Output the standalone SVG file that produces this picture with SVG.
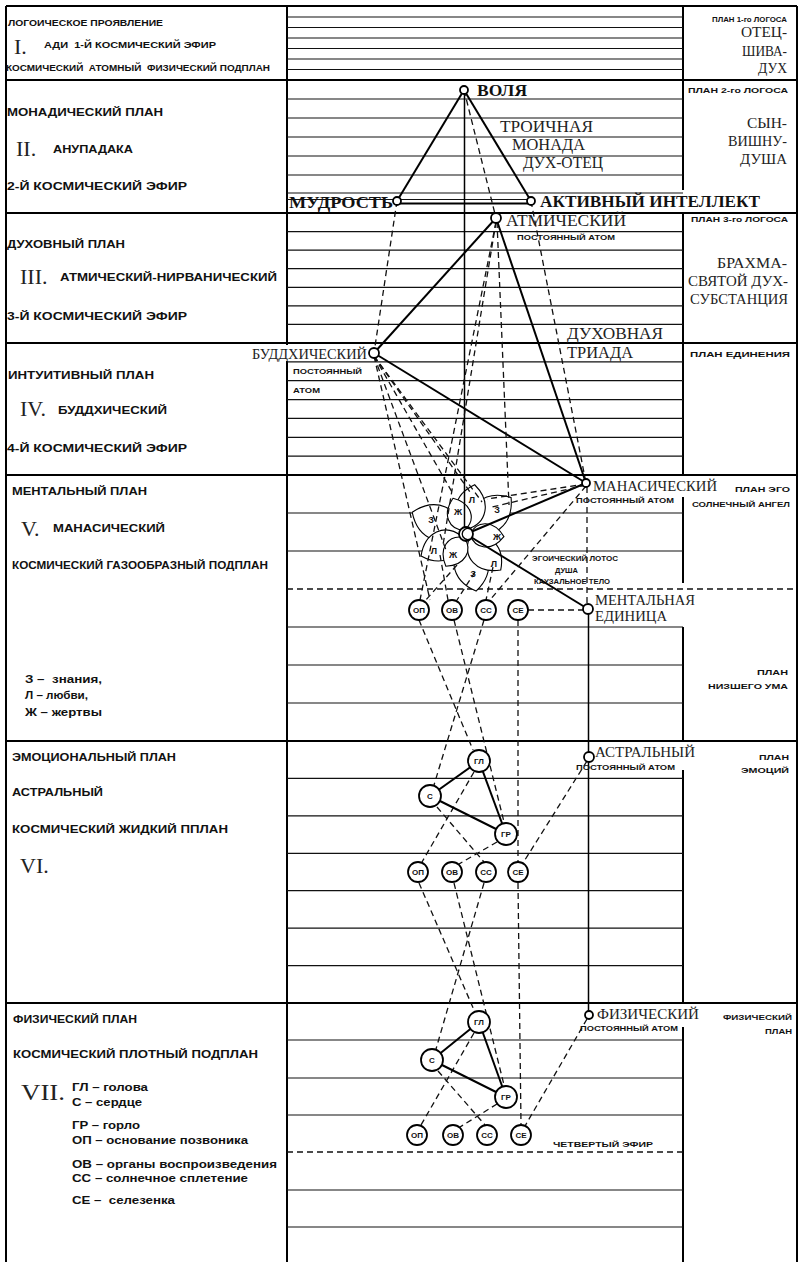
<svg xmlns="http://www.w3.org/2000/svg" width="798" height="1262" viewBox="0 0 798 1262">
<style>
.bg{fill:#fff}
.t{stroke:#111;stroke-width:1.2;fill:none}
.k{stroke:#000;stroke-width:2;fill:none}
.dl{stroke:#111;stroke-width:1.3;stroke-dasharray:6 4;fill:none}
.sl{stroke:#000;stroke-width:2;fill:none}
.vl{stroke:#000;stroke-width:1.5;fill:none}
.nd{fill:#fff;stroke:#000;stroke-width:1.8}
.ch{fill:#fff;stroke:#000;stroke-width:1.8}
.pt{fill:#fff;stroke:#000;stroke-width:1.1}
.s{font-family:'Liberation Sans',Arial,sans-serif;font-weight:bold;fill:#111}
.r{font-family:'Liberation Serif','Times New Roman',serif;fill:#222}
.rb{font-family:'Liberation Serif','Times New Roman',serif;font-weight:bold;fill:#111}
.c{text-anchor:middle}
</style>
<rect class="bg" x="0" y="0" width="798" height="1262"/>

<g id="grid">
<line class="k" x1="6" y1="6" x2="797" y2="6"/>
<line class="k" x1="6" y1="6" x2="6" y2="1262"/>
<line class="k" x1="797" y1="6" x2="797" y2="1262"/>
<line class="k" x1="287" y1="6" x2="287" y2="345"/>
<line class="k" x1="287" y1="361" x2="287" y2="1262"/>
<line class="k" x1="683" y1="6" x2="683" y2="190"/>
<line class="k" x1="683" y1="213" x2="683" y2="475"/>
<line class="k" x1="683" y1="497" x2="683" y2="583"/>
<line class="k" x1="683" y1="627" x2="683" y2="741"/>
<line class="k" x1="683" y1="770" x2="683" y2="1003"/>
<line class="k" x1="683" y1="1027" x2="683" y2="1262"/>
<line class="k" x1="6" y1="80" x2="797" y2="80"/>
<line class="k" x1="6" y1="213" x2="797" y2="213"/>
<line class="k" x1="6" y1="343" x2="797" y2="343"/>
<line class="k" x1="6" y1="475" x2="797" y2="475"/>
<line class="k" x1="6" y1="741" x2="797" y2="741"/>
<line class="k" x1="6" y1="1003" x2="797" y2="1003"/>
<line class="t" x1="287" y1="17" x2="683" y2="17"/>
<line class="t" x1="287" y1="27.5" x2="683" y2="27.5"/>
<line class="t" x1="287" y1="38" x2="683" y2="38"/>
<line class="t" x1="287" y1="48.5" x2="683" y2="48.5"/>
<line class="t" x1="287" y1="59" x2="683" y2="59"/>
<line class="t" x1="287" y1="69.5" x2="683" y2="69.5"/>
<line class="t" x1="287" y1="99" x2="683" y2="99"/>
<line class="t" x1="287" y1="118" x2="683" y2="118"/>
<line class="t" x1="287" y1="137" x2="683" y2="137"/>
<line class="t" x1="287" y1="156" x2="683" y2="156"/>
<line class="t" x1="287" y1="175" x2="683" y2="175"/>
<line class="t" x1="287" y1="193" x2="683" y2="193"/>
<line class="t" x1="287" y1="199.5" x2="531" y2="199.5"/>
<line class="t" x1="287" y1="231.6" x2="683" y2="231.6"/>
<line class="t" x1="287" y1="250.1" x2="683" y2="250.1"/>
<line class="t" x1="287" y1="268.7" x2="683" y2="268.7"/>
<line class="t" x1="287" y1="287.3" x2="683" y2="287.3"/>
<line class="t" x1="287" y1="305.9" x2="683" y2="305.9"/>
<line class="t" x1="287" y1="324.4" x2="683" y2="324.4"/>
<line class="t" x1="287" y1="361.9" x2="683" y2="361.9"/>
<line class="t" x1="287" y1="380.7" x2="683" y2="380.7"/>
<line class="t" x1="287" y1="399.6" x2="683" y2="399.6"/>
<line class="t" x1="287" y1="418.4" x2="683" y2="418.4"/>
<line class="t" x1="287" y1="437.3" x2="683" y2="437.3"/>
<line class="t" x1="287" y1="456.1" x2="683" y2="456.1"/>
<line class="t" x1="287" y1="513" x2="683" y2="513"/>
<line class="t" x1="287" y1="551" x2="683" y2="551"/>
<line class="dl" x1="287" y1="589" x2="797" y2="589"/>
<line class="t" x1="287" y1="627" x2="683" y2="627"/>
<line class="t" x1="287" y1="665" x2="683" y2="665"/>
<line class="t" x1="287" y1="703" x2="683" y2="703"/>
<line class="t" x1="287" y1="778.4" x2="683" y2="778.4"/>
<line class="t" x1="287" y1="815.9" x2="683" y2="815.9"/>
<line class="t" x1="287" y1="853.3" x2="683" y2="853.3"/>
<line class="t" x1="287" y1="890.7" x2="683" y2="890.7"/>
<line class="t" x1="287" y1="928.1" x2="683" y2="928.1"/>
<line class="t" x1="287" y1="965.6" x2="683" y2="965.6"/>
<line class="t" x1="287" y1="1040" x2="683" y2="1040"/>
<line class="t" x1="287" y1="1078" x2="683" y2="1078"/>
<line class="t" x1="287" y1="1115" x2="683" y2="1115"/>
<line class="dl" x1="287" y1="1152" x2="683" y2="1152"/>
<line class="t" x1="287" y1="1190" x2="683" y2="1190"/>
<line class="t" x1="287" y1="1227" x2="683" y2="1227"/>
</g>

<g id="lotus">
<g transform="translate(466,534)">
<path class="pt" transform="rotate(202)" d="M5,0 C15,-22 42,-24 58,0 C42,24 15,22 5,0Z"/>
<path class="pt" transform="rotate(321)" d="M5,0 C15,-22 42,-24 58,0 C42,24 15,22 5,0Z"/>
<path class="pt" transform="rotate(80)" d="M5,0 C15,-22 42,-24 58,0 C42,24 15,22 5,0Z"/>
<path class="pt" transform="rotate(46)" d="M5,0 C14,-19 36,-20 50,0 C36,20 14,19 5,0Z"/>
<path class="pt" transform="rotate(154)" d="M5,0 C14,-19 36,-20 50,0 C36,20 14,19 5,0Z"/>
<path class="pt" transform="rotate(280)" d="M5,0 C14,-19 36,-20 50,0 C36,20 14,19 5,0Z"/>
<path class="pt" transform="rotate(4)" d="M4,0 C10,-15 27,-16 38,0 C27,16 10,15 4,0Z"/>
<path class="pt" transform="rotate(122)" d="M4,0 C10,-15 27,-16 38,0 C27,16 10,15 4,0Z"/>
<path class="pt" transform="rotate(250)" d="M4,0 C10,-15 27,-16 38,0 C27,16 10,15 4,0Z"/>
</g>
<text class="s c" x="431" y="523" font-size="9">З</text>
<text class="s c" x="497" y="513" font-size="9">З</text>
<text class="s c" x="473" y="577" font-size="9">З</text>
<text class="s c" x="472" y="503" font-size="9">Л</text>
<text class="s c" x="434" y="554" font-size="9">Л</text>
<text class="s c" x="494" y="567" font-size="9">Л</text>
<text class="s c" x="458" y="515" font-size="9">Ж</text>
<text class="s c" x="497" y="540" font-size="9">Ж</text>
<text class="s c" x="453" y="558" font-size="9">Ж</text>
</g>

<g id="connectors">
<line class="sl" x1="464" y1="90" x2="397" y2="201"/>
<line class="sl" x1="464" y1="90" x2="531" y2="201"/>
<line class="sl" x1="397" y1="203.5" x2="531" y2="203.5"/>
<line class="vl" x1="464.5" y1="90" x2="464.5" y2="534"/>
<line class="sl" x1="496" y1="218" x2="374" y2="353"/>
<line class="sl" x1="496" y1="218" x2="586" y2="483"/>
<line class="sl" x1="374" y1="353" x2="586" y2="483"/>
<line class="sl" x1="586" y1="483" x2="466" y2="534"/>
<line class="sl" x1="466" y1="534" x2="588" y2="609"/>
<line class="vl" x1="588.5" y1="609" x2="588.5" y2="1015"/>
<line class="dl" x1="464" y1="90" x2="496" y2="218"/>
<line class="dl" x1="397" y1="201" x2="374" y2="353"/>
<line class="dl" x1="531" y1="201" x2="586" y2="483"/>
<line class="dl" x1="496" y1="222" x2="420" y2="600"/>
<line class="dl" x1="496" y1="222" x2="443" y2="545"/>
<line class="dl" x1="497" y1="222" x2="509" y2="505"/>
<line class="dl" x1="374" y1="356" x2="430" y2="600"/>
<line class="dl" x1="374" y1="356" x2="446" y2="550"/>
<line class="dl" x1="374" y1="356" x2="452" y2="492"/>
<line class="dl" x1="374" y1="356" x2="470" y2="492"/>
<line class="dl" x1="374" y1="356" x2="482" y2="502"/>
<line class="dl" x1="586" y1="484" x2="487" y2="499"/>
<line class="dl" x1="586" y1="485" x2="492" y2="507"/>
<line class="dl" x1="586" y1="486" x2="490" y2="600"/>
<line class="dl" x1="587" y1="487" x2="587" y2="604"/>
<line class="dl" x1="457" y1="565" x2="425" y2="601"/>
<line class="dl" x1="440" y1="555" x2="448" y2="600"/>
<line class="dl" x1="475" y1="572" x2="457" y2="600"/>
<line class="dl" x1="493" y1="567" x2="486" y2="600"/>
<line class="dl" x1="528" y1="610" x2="583" y2="610"/>
<line class="dl" x1="419" y1="620" x2="473" y2="750"/>
<line class="dl" x1="454" y1="620" x2="504" y2="822"/>
<line class="dl" x1="484" y1="620" x2="434" y2="785"/>
<line class="dl" x1="518" y1="620" x2="518" y2="862"/>
<line class="dl" x1="587" y1="761" x2="523" y2="863"/>
<line class="dl" x1="474" y1="772" x2="422" y2="862"/>
<line class="dl" x1="437" y1="807" x2="484" y2="862"/>
<line class="dl" x1="497" y1="842" x2="459" y2="864"/>
<line class="dl" x1="419" y1="883" x2="474" y2="1010"/>
<line class="dl" x1="454" y1="883" x2="504" y2="1085"/>
<line class="dl" x1="484" y1="883" x2="436" y2="1049"/>
<line class="dl" x1="518" y1="883" x2="521" y2="1124"/>
<line class="dl" x1="587" y1="1019" x2="525" y2="1126"/>
<line class="dl" x1="474" y1="1033" x2="421" y2="1125"/>
<line class="dl" x1="438" y1="1071" x2="485" y2="1125"/>
<line class="dl" x1="497" y1="1104" x2="460" y2="1127"/>
<line class="sl" x1="479" y1="761" x2="430" y2="796"/>
<line class="sl" x1="479" y1="761" x2="506" y2="834"/>
<line class="sl" x1="430" y1="796" x2="506" y2="834"/>
<line class="sl" x1="479" y1="1022" x2="432" y2="1060"/>
<line class="sl" x1="479" y1="1022" x2="506" y2="1097"/>
<line class="sl" x1="432" y1="1060" x2="506" y2="1097"/>
</g>

<g id="lotus-centre">
<circle class="nd" cx="466" cy="534" r="7"/>
<path d="M470,529 A5.5,5.5 0 1 0 470,539" fill="none" stroke="#000" stroke-width="1.3"/>
</g>

<g id="n-volya"><circle class="nd" cx="464" cy="90" r="4"/><text class="rb" x="477" y="96" font-size="16" textLength="50" lengthAdjust="spacingAndGlyphs">ВОЛЯ</text></g>
<g id="n-mudrost"><circle class="nd" cx="397" cy="201" r="4"/><text class="rb" x="289" y="208" font-size="16" textLength="104" lengthAdjust="spacingAndGlyphs">МУДРОСТЬ</text></g>
<g id="n-aktiv"><circle class="nd" cx="531" cy="201" r="4"/><text class="rb" x="540" y="207" font-size="16" textLength="220" lengthAdjust="spacingAndGlyphs">АКТИВНЫЙ ИНТЕЛЛЕКТ</text></g>
<g id="t-monada">
<text class="r" x="500" y="132" font-size="16" textLength="93" lengthAdjust="spacingAndGlyphs">ТРОИЧНАЯ</text>
<text class="r" x="512" y="150" font-size="16" textLength="73" lengthAdjust="spacingAndGlyphs">МОНАДА</text>
<text class="r" x="523" y="168" font-size="16" textLength="80" lengthAdjust="spacingAndGlyphs">ДУХ-ОТЕЦ</text>
</g>
<g id="n-atmic"><circle class="nd" cx="496" cy="218" r="5"/>
<text class="r" x="506" y="226" font-size="16" textLength="120" lengthAdjust="spacingAndGlyphs">АТМИЧЕСКИЙ</text>
<text class="s" x="517" y="240" font-size="7.5" textLength="98" lengthAdjust="spacingAndGlyphs">ПОСТОЯННЫЙ АТОМ</text></g>
<g id="t-triada">
<text class="r" x="567" y="339" font-size="16" textLength="96" lengthAdjust="spacingAndGlyphs">ДУХОВНАЯ</text>
<text class="r" x="567" y="358" font-size="16" textLength="66" lengthAdjust="spacingAndGlyphs">ТРИАДА</text>
</g>
<g id="n-buddhic"><circle class="nd" cx="374" cy="353" r="5"/>
<text class="r" x="252" y="359" font-size="15" textLength="115" lengthAdjust="spacingAndGlyphs">БУДДХИЧЕСКИЙ</text>
<text class="s" x="293" y="374" font-size="7.5" textLength="69" lengthAdjust="spacingAndGlyphs">ПОСТОЯННЫЙ</text>
<text class="s" x="293" y="393" font-size="7.5" textLength="27" lengthAdjust="spacingAndGlyphs">АТОМ</text></g>
<g id="n-manasic"><circle class="nd" cx="586" cy="483" r="4"/>
<text class="r" x="593" y="491" font-size="15" textLength="124" lengthAdjust="spacingAndGlyphs">МАНАСИЧЕСКИЙ</text>
<text class="s" x="576" y="503" font-size="7.5" textLength="98" lengthAdjust="spacingAndGlyphs">ПОСТОЯННЫЙ АТОМ</text></g>
<g id="t-lotus">
<text class="s" x="532" y="561" font-size="7" textLength="86" lengthAdjust="spacingAndGlyphs">ЭГОИЧЕСКИЙ ЛОТОС</text>
<text class="s" x="555" y="573" font-size="7" textLength="23" lengthAdjust="spacingAndGlyphs">ДУША</text>
<text class="s" x="534" y="584" font-size="7" textLength="76" lengthAdjust="spacingAndGlyphs">КАУЗАЛЬНОЕ ТЕЛО</text>
</g>
<g id="n-mental-unit"><circle class="nd" cx="588" cy="609" r="5"/>
<text class="r" x="595" y="605" font-size="15" textLength="100" lengthAdjust="spacingAndGlyphs">МЕНТАЛЬНАЯ</text>
<text class="r" x="595" y="621" font-size="15" textLength="72" lengthAdjust="spacingAndGlyphs">ЕДИНИЦА</text></g>
<g id="n-astral-atom"><circle class="nd" cx="589" cy="757" r="5"/>
<text class="r" x="595" y="757" font-size="15" textLength="100" lengthAdjust="spacingAndGlyphs">АСТРАЛЬНЫЙ</text>
<text class="s" x="576" y="770" font-size="7.5" textLength="99" lengthAdjust="spacingAndGlyphs">ПОСТОЯННЫЙ АТОМ</text></g>
<g id="n-phys-atom"><circle class="nd" cx="589" cy="1015" r="4"/>
<text class="r" x="597" y="1019" font-size="15" textLength="102" lengthAdjust="spacingAndGlyphs">ФИЗИЧЕСКИЙ</text>
<text class="s" x="580" y="1031" font-size="7.5" textLength="98" lengthAdjust="spacingAndGlyphs">ПОСТОЯННЫЙ АТОМ</text></g>

<g id="centres-mental">
<circle class="ch" cx="419" cy="610" r="10"/><text class="s c" x="419" y="613" font-size="8">ОП</text>
<circle class="ch" cx="452" cy="610" r="10"/><text class="s c" x="452" y="613" font-size="8">ОВ</text>
<circle class="ch" cx="486" cy="610" r="10"/><text class="s c" x="486" y="613" font-size="8">СС</text>
<circle class="ch" cx="518" cy="610" r="10"/><text class="s c" x="518" y="613" font-size="8">СЕ</text>
</g>
<g id="centres-astral">
<circle class="ch" cx="479" cy="761" r="11"/><text class="s c" x="479" y="764" font-size="8">ГЛ</text>
<circle class="ch" cx="430" cy="796" r="11"/><text class="s c" x="430" y="799" font-size="8">С</text>
<circle class="ch" cx="506" cy="834" r="11"/><text class="s c" x="506" y="837" font-size="8">ГР</text>
<circle class="ch" cx="418" cy="872" r="10"/><text class="s c" x="418" y="875" font-size="8">ОП</text>
<circle class="ch" cx="452" cy="872" r="10"/><text class="s c" x="452" y="875" font-size="8">ОВ</text>
<circle class="ch" cx="486" cy="872" r="10"/><text class="s c" x="486" y="875" font-size="8">СС</text>
<circle class="ch" cx="518" cy="872" r="10"/><text class="s c" x="518" y="875" font-size="8">СЕ</text>
</g>
<g id="centres-physical">
<circle class="ch" cx="479" cy="1022" r="11"/><text class="s c" x="479" y="1025" font-size="8">ГЛ</text>
<circle class="ch" cx="432" cy="1060" r="11"/><text class="s c" x="432" y="1063" font-size="8">С</text>
<circle class="ch" cx="506" cy="1097" r="11"/><text class="s c" x="506" y="1100" font-size="8">ГР</text>
<circle class="ch" cx="417" cy="1135" r="10"/><text class="s c" x="417" y="1138" font-size="8">ОП</text>
<circle class="ch" cx="453" cy="1135" r="10"/><text class="s c" x="453" y="1138" font-size="8">ОВ</text>
<circle class="ch" cx="487" cy="1135" r="10"/><text class="s c" x="487" y="1138" font-size="8">СС</text>
<circle class="ch" cx="521" cy="1135" r="10"/><text class="s c" x="521" y="1138" font-size="8">СЕ</text>
<text class="s" x="553" y="1147" font-size="8" textLength="100" lengthAdjust="spacingAndGlyphs">ЧЕТВЕРТЫЙ ЭФИР</text>
</g>

<g id="left-labels">
<text class="s" x="8" y="26" font-size="8.5" textLength="155" lengthAdjust="spacingAndGlyphs">ЛОГОИЧЕСКОЕ ПРОЯВЛЕНИЕ</text>
<text class="r" x="14" y="54" font-size="22" fill="#111">I.</text>
<text class="s" x="44" y="48" font-size="8.5" textLength="172" lengthAdjust="spacingAndGlyphs" xml:space="preserve">АДИ  1-Й КОСМИЧЕСКИЙ ЭФИР</text>
<text class="s" x="6" y="71" font-size="8.5" textLength="264" lengthAdjust="spacingAndGlyphs" xml:space="preserve">КОСМИЧЕСКИЙ  АТОМНЫЙ  ФИЗИЧЕСКИЙ ПОДПЛАН</text>
<text class="s" x="7" y="116" font-size="10.5" textLength="156" lengthAdjust="spacingAndGlyphs">МОНАДИЧЕСКИЙ ПЛАН</text>
<text class="r" x="16" y="156" font-size="22">II.</text>
<text class="s" x="53" y="153" font-size="10.5" textLength="80" lengthAdjust="spacingAndGlyphs">АНУПАДАКА</text>
<text class="s" x="7" y="190" font-size="10.5" textLength="180" lengthAdjust="spacingAndGlyphs">2-Й КОСМИЧЕСКИЙ ЭФИР</text>
<text class="s" x="7" y="248" font-size="10.5" textLength="118" lengthAdjust="spacingAndGlyphs">ДУХОВНЫЙ ПЛАН</text>
<text class="r" x="20" y="284" font-size="22">III.</text>
<text class="s" x="60" y="281" font-size="10.5" textLength="217" lengthAdjust="spacingAndGlyphs">АТМИЧЕСКИЙ-НИРВАНИЧЕСКИЙ</text>
<text class="s" x="7" y="320" font-size="10.5" textLength="180" lengthAdjust="spacingAndGlyphs">3-Й КОСМИЧЕСКИЙ ЭФИР</text>
<text class="s" x="8" y="379" font-size="10.5" textLength="146" lengthAdjust="spacingAndGlyphs">ИНТУИТИВНЫЙ ПЛАН</text>
<text class="r" x="20" y="416" font-size="22">IV.</text>
<text class="s" x="58" y="414" font-size="10.5" textLength="109" lengthAdjust="spacingAndGlyphs">БУДДХИЧЕСКИЙ</text>
<text class="s" x="7" y="452" font-size="10.5" textLength="180" lengthAdjust="spacingAndGlyphs">4-Й КОСМИЧЕСКИЙ ЭФИР</text>
<text class="s" x="12" y="495" font-size="10.5" textLength="135" lengthAdjust="spacingAndGlyphs">МЕНТАЛЬНЫЙ ПЛАН</text>
<text class="r" x="21" y="536" font-size="22">V.</text>
<text class="s" x="53" y="532" font-size="10.5" textLength="112" lengthAdjust="spacingAndGlyphs">МАНАСИЧЕСКИЙ</text>
<text class="s" x="12" y="569" font-size="10.5" textLength="256" lengthAdjust="spacingAndGlyphs">КОСМИЧЕСКИЙ ГАЗООБРАЗНЫЙ ПОДПЛАН</text>
<text class="s" x="25" y="683" font-size="10.5" textLength="77" lengthAdjust="spacingAndGlyphs" xml:space="preserve">З –  знания,</text>
<text class="s" x="25" y="699" font-size="10.5" textLength="63" lengthAdjust="spacingAndGlyphs">Л – любви,</text>
<text class="s" x="25" y="716" font-size="10.5" textLength="77" lengthAdjust="spacingAndGlyphs">Ж – жертвы</text>
<text class="s" x="12" y="761" font-size="10.5" textLength="164" lengthAdjust="spacingAndGlyphs">ЭМОЦИОНАЛЬНЫЙ ПЛАН</text>
<text class="s" x="12" y="796" font-size="10.5" textLength="91" lengthAdjust="spacingAndGlyphs">АСТРАЛЬНЫЙ</text>
<text class="s" x="12" y="833" font-size="10.5" textLength="216" lengthAdjust="spacingAndGlyphs">КОСМИЧЕСКИЙ ЖИДКИЙ ППЛАН</text>
<text class="r" x="20" y="873" font-size="22">VI.</text>
<text class="s" x="13" y="1023" font-size="10.5" textLength="124" lengthAdjust="spacingAndGlyphs">ФИЗИЧЕСКИЙ ПЛАН</text>
<text class="s" x="13" y="1058" font-size="10.5" textLength="245" lengthAdjust="spacingAndGlyphs">КОСМИЧЕСКИЙ ПЛОТНЫЙ ПОДПЛАН</text>
<text class="r" x="21" y="1100" font-size="24" textLength="44" lengthAdjust="spacingAndGlyphs">VII.</text>
<text class="s" x="72" y="1091" font-size="10.5" textLength="76" lengthAdjust="spacingAndGlyphs">ГЛ – голова</text>
<text class="s" x="72" y="1106" font-size="10.5" textLength="70" lengthAdjust="spacingAndGlyphs">С – сердце</text>
<text class="s" x="72" y="1129" font-size="10.5" textLength="68" lengthAdjust="spacingAndGlyphs">ГР – горло</text>
<text class="s" x="72" y="1144" font-size="10.5" textLength="176" lengthAdjust="spacingAndGlyphs">ОП – основание позвоника</text>
<text class="s" x="72" y="1168" font-size="10.5" textLength="205" lengthAdjust="spacingAndGlyphs">ОВ – органы воспроизведения</text>
<text class="s" x="72" y="1182" font-size="10.5" textLength="176" lengthAdjust="spacingAndGlyphs">СС – солнечное сплетение</text>
<text class="s" x="72" y="1204" font-size="10.5" textLength="103" lengthAdjust="spacingAndGlyphs" xml:space="preserve">СЕ –  селезенка</text>
</g>

<g id="right-labels">
<text class="s" x="712" y="22" font-size="7.5" textLength="75" lengthAdjust="spacingAndGlyphs">ПЛАН 1-го ЛОГОСА</text>
<text class="r" x="741" y="37" font-size="14" textLength="46" lengthAdjust="spacingAndGlyphs">ОТЕЦ-</text>
<text class="r" x="742" y="56" font-size="14" textLength="45" lengthAdjust="spacingAndGlyphs">ШИВА-</text>
<text class="r" x="758" y="73" font-size="14" textLength="29" lengthAdjust="spacingAndGlyphs">ДУХ</text>
<text class="s" x="688" y="93" font-size="8" textLength="100" lengthAdjust="spacingAndGlyphs">ПЛАН 2-го ЛОГОСА</text>
<text class="r" x="747" y="128" font-size="14" textLength="40" lengthAdjust="spacingAndGlyphs">СЫН-</text>
<text class="r" x="728" y="146" font-size="14" textLength="59" lengthAdjust="spacingAndGlyphs">ВИШНУ-</text>
<text class="r" x="740" y="164" font-size="14" textLength="47" lengthAdjust="spacingAndGlyphs">ДУША</text>
<text class="s" x="691" y="222" font-size="8" textLength="97" lengthAdjust="spacingAndGlyphs">ПЛАН 3-го ЛОГОСА</text>
<text class="r" x="717" y="268" font-size="14" textLength="70" lengthAdjust="spacingAndGlyphs">БРАХМА-</text>
<text class="r" x="688" y="286" font-size="14" textLength="100" lengthAdjust="spacingAndGlyphs">СВЯТОЙ ДУХ-</text>
<text class="r" x="690" y="304" font-size="14" textLength="98" lengthAdjust="spacingAndGlyphs">СУБСТАНЦИЯ</text>
<text class="s" x="690" y="357" font-size="8" textLength="100" lengthAdjust="spacingAndGlyphs">ПЛАН ЕДИНЕНИЯ</text>
<text class="s" x="735" y="492" font-size="8" textLength="55" lengthAdjust="spacingAndGlyphs">ПЛАН ЭГО</text>
<text class="s" x="692" y="507" font-size="8" textLength="98" lengthAdjust="spacingAndGlyphs">СОЛНЕЧНЫЙ АНГЕЛ</text>
<text class="s" x="757" y="675" font-size="8" textLength="31" lengthAdjust="spacingAndGlyphs">ПЛАН</text>
<text class="s" x="708" y="689" font-size="8" textLength="80" lengthAdjust="spacingAndGlyphs">НИЗШЕГО УМА</text>
<text class="s" x="759" y="760" font-size="8" textLength="30" lengthAdjust="spacingAndGlyphs">ПЛАН</text>
<text class="s" x="741" y="773" font-size="8" textLength="48" lengthAdjust="spacingAndGlyphs">ЭМОЦИЙ</text>
<text class="s" x="723" y="1020" font-size="8" textLength="69" lengthAdjust="spacingAndGlyphs">ФИЗИЧЕСКИЙ</text>
<text class="s" x="765" y="1034" font-size="8" textLength="27" lengthAdjust="spacingAndGlyphs">ПЛАН</text>
</g>
</svg>
